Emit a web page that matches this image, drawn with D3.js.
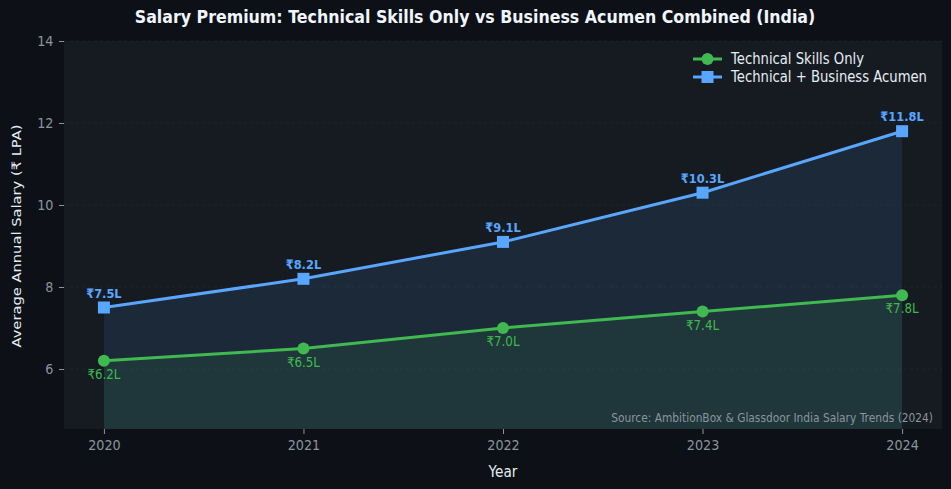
<!DOCTYPE html>
<html lang="en">
<head>
<meta charset="utf-8">
<title>Salary Premium</title>
<script src="https://d3js.org/d3.v7.min.js"></script>
<style>
  body { margin: 0; background: #0d1117; }
  svg { display: block; font-family: "DejaVu Sans", sans-serif; }
</style>
</head>
<body>
<svg id="vis" width="951" height="489"></svg>
<script>
var years = [2020, 2021, 2022, 2023, 2024];
var techOnly = [6.2, 6.5, 7.0, 7.4, 7.8];
var techBusiness = [7.5, 8.2, 9.1, 10.3, 11.8];
var yTicks = [6, 8, 10, 12, 14];

var green = "#3fb950", blue = "#58a6ff";
var sx = 0.88; // text in the picture is a bit narrow

var svg = d3.select("#vis"),
    mLeft = 64, mRight = 942, mTop = 41, mBottom = 429,
    yMin = 4.537;

var x = d3.scaleLinear().domain([2019.8, 2024.2]).range([mLeft, mRight]);
var y = d3.scaleLinear().domain([yMin, 14]).range([mBottom, mTop]);

function place(px, py) { return "translate(" + px + "," + py + ") scale(" + sx + ",1)"; }

svg.append("rect").attr("width", 951).attr("height", 489).attr("fill", "#0d1117");
svg.append("rect").attr("x", mLeft).attr("y", mTop)
    .attr("width", mRight - mLeft).attr("height", mBottom - mTop).attr("fill", "#161b22");

// grid
svg.append("g").selectAll("line").data(yTicks).enter().append("line")
    .attr("x1", mLeft).attr("x2", mRight)
    .attr("y1", d => y(d)).attr("y2", d => y(d))
    .attr("stroke", "#30363d").attr("stroke-opacity", 0.35).attr("stroke-dasharray", "3,3");

var techSeries = years.map((d, i) => ({ year: d, v: techOnly[i] }));
var bizSeries = years.map((d, i) => ({ year: d, v: techBusiness[i] }));

var area = d3.area().x(d => x(d.year)).y0(y(yMin)).y1(d => y(d.v));
var line = d3.line().x(d => x(d.year)).y(d => y(d.v));

svg.append("path").datum(bizSeries).attr("d", area)
    .attr("fill", blue).attr("fill-opacity", 0.1);
svg.append("path").datum(techSeries).attr("d", area)
    .attr("fill", green).attr("fill-opacity", 0.1);

svg.append("path").datum(techSeries).attr("d", line)
    .attr("fill", "none").attr("stroke", green).attr("stroke-width", 3);
svg.append("path").datum(bizSeries).attr("d", line)
    .attr("fill", "none").attr("stroke", blue).attr("stroke-width", 3);

svg.append("g").selectAll("circle").data(techSeries).enter().append("circle")
    .attr("cx", d => x(d.year)).attr("cy", d => y(d.v)).attr("r", 6)
    .attr("fill", green);
svg.append("g").selectAll("rect").data(bizSeries).enter().append("rect")
    .attr("x", d => x(d.year) - 6).attr("y", d => y(d.v) - 6)
    .attr("width", 12).attr("height", 12).attr("fill", blue);

// value labels
svg.append("g").selectAll("text").data(bizSeries).enter().append("text")
    .attr("transform", d => place(x(d.year), y(d.v) - 10))
    .attr("text-anchor", "middle").attr("fill", blue)
    .attr("font-size", 13).attr("font-weight", "bold")
    .text(d => "₹" + d.v.toFixed(1) + "L");
svg.append("g").selectAll("text").data(techSeries).enter().append("text")
    .attr("transform", d => place(x(d.year), y(d.v) + 18))
    .attr("text-anchor", "middle").attr("fill", green)
    .attr("font-size", 13.5)
    .text(d => "₹" + d.v.toFixed(1) + "L");

// axes
var xAxis = svg.append("g").attr("transform", "translate(0," + mBottom + ")")
    .call(d3.axisBottom(x).tickValues(years).tickFormat(d3.format("d")).tickSize(5).tickPadding(6));
var yAxis = svg.append("g").attr("transform", "translate(" + mLeft + ",0)")
    .call(d3.axisLeft(y).tickValues(yTicks).tickSize(5).tickPadding(7));
[xAxis, yAxis].forEach(function(a) {
  a.select(".domain").remove();
  a.selectAll(".tick line").attr("stroke", "#8b949e");
  a.selectAll(".tick text").attr("fill", "#8b949e").attr("font-size", 14.5)
    .attr("font-family", "DejaVu Sans, sans-serif")
    .attr("transform", "scale(" + sx + ",1)");
});

svg.append("text").attr("transform", place(475, 23)).attr("text-anchor", "middle")
    .attr("fill", "#f0f6fc").attr("font-size", 18).attr("font-weight", "bold")
    .text("Salary Premium: Technical Skills Only vs Business Acumen Combined (India)");

svg.append("text").attr("transform", place(503, 477)).attr("text-anchor", "middle")
    .attr("fill", "#e6edf3").attr("font-size", 15.5).text("Year");
svg.append("text").attr("transform", "translate(21,236) rotate(-90) scale(1," + sx + ")")
    .attr("text-anchor", "middle").attr("fill", "#e6edf3").attr("font-size", 14.7)
    .text("Average Annual Salary (₹ LPA)");

svg.append("text").attr("transform", place(933, 422)).attr("text-anchor", "end")
    .attr("fill", "#8b949e").attr("font-size", 12.1)
    .text("Source: AmbitionBox & Glassdoor India Salary Trends (2024)");

// legend
var legend = [
  { name: "Technical Skills Only", color: green, shape: "circle" },
  { name: "Technical + Business Acumen", color: blue, shape: "square" }
];
var lg = svg.append("g").selectAll("g").data(legend).enter().append("g")
    .attr("transform", (d, i) => "translate(693," + (59 + i * 18) + ")");
lg.append("line").attr("x1", 0).attr("x2", 29).attr("stroke", d => d.color).attr("stroke-width", 3);
lg.filter(d => d.shape === "circle").append("circle").attr("cx", 14.5).attr("r", 6).attr("fill", d => d.color);
lg.filter(d => d.shape === "square").append("rect").attr("x", 8.5).attr("y", -6)
    .attr("width", 12).attr("height", 12).attr("fill", d => d.color);
lg.append("text").attr("transform", place(38, 5)).attr("fill", "#e6edf3").attr("font-size", 15)
    .text(d => d.name);
</script>
</body>
</html>
